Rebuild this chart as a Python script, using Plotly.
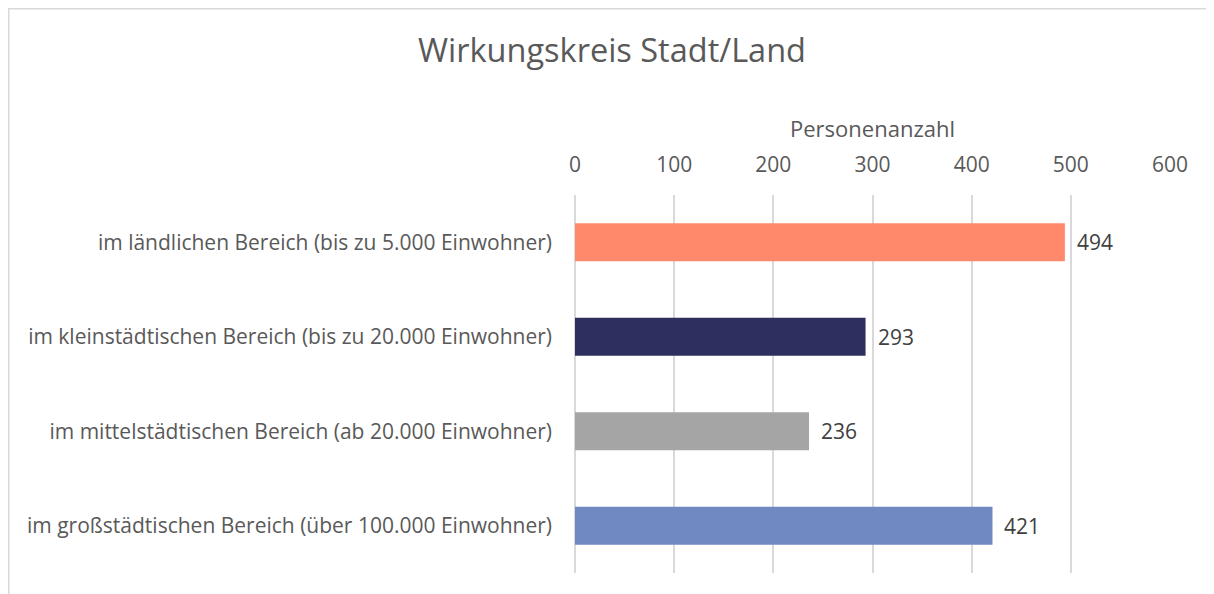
import plotly.graph_objects as go

categories = [
    "im ländlichen Bereich (bis zu 5.000 Einwohner)",
    "im kleinstädtischen Bereich (bis zu 20.000 Einwohner)",
    "im mittelstädtischen Bereich (ab 20.000 Einwohner)",
    "im großstädtischen Bereich (über 100.000 Einwohner)",
]
values = [494, 293, 236, 421]
colors = ["#FF896A", "#2E2F5E", "#A5A5A5", "#7189C2"]
x_ticks = [0, 100, 200, 300, 400, 500, 600]

# page body has an 8px margin; figure is placed at (8, 8)
W, H = 1206, 586
L, R, T, B = 567, 44, 187, 21
pw, ph = W - L - R, H - T - B

font = "Open Sans"
fig = go.Figure(go.Bar(
    x=values, y=categories, orientation="h",
    marker=dict(color=colors, line=dict(width=0)),
    width=0.4,
))

for c, v in zip(categories, values):
    fig.add_annotation(x=v, y=c, text=str(v), showarrow=False, xanchor="left",
                       xshift=10, font=dict(family=font, size=21, color="#404040"))

fig.add_shape(type="rect", xref="paper", yref="paper",
              x0=(0.75 - L) / pw, x1=(W + 20 - L) / pw,
              y0=(-30 - B) / ph, y1=(H - B - 0.75) / ph,
              line=dict(color="#D9D9D9", width=1.5), fillcolor="rgba(0,0,0,0)", layer="below")

fig.update_layout(
    width=W, height=H,
    margin=dict(l=L, r=R, t=T, b=B),
    paper_bgcolor="white", plot_bgcolor="white",
    title=dict(text="Wirkungskreis Stadt/Land", x=(612 - 8) / W, xanchor="center",
               y=1 - (51 - 8) / H, yanchor="middle",
               font=dict(family=font, size=32.5, color="#595959")),
    showlegend=False,
    xaxis=dict(side="top", range=[0, 600], tickvals=x_ticks,
               showgrid=True, gridcolor="#D9D9D9", gridwidth=1.5,
               zeroline=True, zerolinecolor="#D9D9D9", zerolinewidth=1.5,
               showline=False, ticks="", ticklabelstandoff=18,
               tickfont=dict(family=font, size=21, color="#595959"),
               title=dict(text="Personenanzahl", standoff=6,
                          font=dict(family=font, size=22, color="#595959"))),
    yaxis=dict(autorange="reversed", showgrid=False, showline=False, ticks="",
               ticklabelstandoff=22,
               tickfont=dict(family=font, size=21, color="#595959")),
)

fig.write_html("out.html")
